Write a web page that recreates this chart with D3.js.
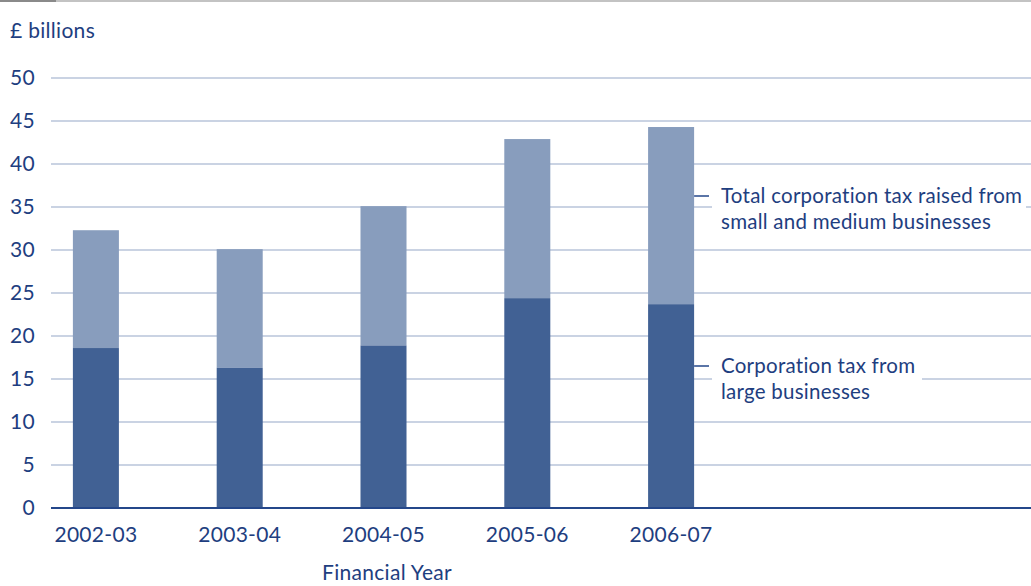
<!DOCTYPE html>
<html>
<head>
<meta charset="utf-8">
<script src="https://cdn.jsdelivr.net/npm/d3@7"></script>
<style>
  html, body { margin: 0; padding: 0; background: #fff; }
  svg { display: block; }
  text { font-family: Lato, "Open Sans", sans-serif; fill: #1e3e80; letter-spacing: 0.3px; }
  text.legend { letter-spacing: 0.25px; }
</style>
</head>
<body>
<svg id="chart" width="1031" height="586"></svg>
<script>
// Corporation tax receipts, £ billions
const years = ["2002-03", "2003-04", "2004-05", "2005-06", "2006-07"];
const largeBusinesses = [18.6, 16.3, 18.9, 24.4, 23.7];
const totalReceipts = [32.3, 30.1, 35.1, 42.9, 44.3];
const yTicks = [0, 5, 10, 15, 20, 25, 30, 35, 40, 45, 50];
const legendTotal = ["Total corporation tax raised from", "small and medium businesses"];
const legendLarge = ["Corporation tax from", "large businesses"];

const W = 1031, H = 586;
const plotLeft = 51, plotRight = 1031;
const svg = d3.select("#chart");

const x = d3.scaleBand()
  .domain(years)
  .range([24, 743])
  .paddingInner(0.68)
  .paddingOuter(0.34);

const y = d3.scaleLinear().domain([0, 50]).range([508, 78]);

// top rule
svg.append("rect").attr("x", 0).attr("y", 0).attr("width", W).attr("height", 2).attr("fill", "#c3c3c3");
svg.append("rect").attr("x", 0).attr("y", 0).attr("width", 56).attr("height", 2).attr("fill", "#8a8a8a");

// gridlines
svg.append("g")
  .selectAll("line")
  .data(yTicks.filter(d => d > 0))
  .join("line")
  .attr("x1", plotLeft).attr("x2", plotRight)
  .attr("y1", d => y(d)).attr("y2", d => y(d))
  .attr("stroke", "#b9c5da").attr("stroke-width", 1.6);

// y tick labels
svg.append("g")
  .selectAll("text")
  .data(yTicks)
  .join("text")
  .attr("x", 35).attr("y", d => y(d) + 7)
  .attr("text-anchor", "end")
  .attr("font-size", 21)
  .text(d => d);

svg.append("text").attr("x", 10).attr("y", 38).attr("font-size", 21).text("£ billions");

// stacked bars
const bars = svg.append("g");
bars.selectAll("rect.total")
  .data(years)
  .join("rect")
  .attr("class", "total")
  .attr("x", d => x(d))
  .attr("width", x.bandwidth())
  .attr("y", (d, i) => y(totalReceipts[i]))
  .attr("height", (d, i) => y(largeBusinesses[i]) - y(totalReceipts[i]))
  .attr("fill", "#889dbd");
bars.selectAll("rect.large")
  .data(years)
  .join("rect")
  .attr("class", "large")
  .attr("x", d => x(d))
  .attr("width", x.bandwidth())
  .attr("y", (d, i) => y(largeBusinesses[i]))
  .attr("height", (d, i) => y(0) - y(largeBusinesses[i]))
  .attr("fill", "#416194");

// baseline
svg.append("line")
  .attr("x1", plotLeft).attr("x2", plotRight)
  .attr("y1", y(0)).attr("y2", y(0))
  .attr("stroke", "#24478a").attr("stroke-width", 2);

// category labels
svg.append("g")
  .selectAll("text")
  .data(years)
  .join("text")
  .attr("x", d => x(d) + x.bandwidth() / 2)
  .attr("y", 542)
  .attr("text-anchor", "middle")
  .attr("font-size", 21)
  .text(d => d);

svg.append("text").attr("x", 387).attr("y", 580).attr("text-anchor", "middle")
  .attr("font-size", 21).text("Financial Year");

// direct labels with leader ticks
const lastIdx = years.length - 1;
const barRight = x(years[lastIdx]) + x.bandwidth();
function directLabel(lines, yLead, boxRight) {
  const g = svg.append("g");
  g.append("rect")
    .attr("x", 712).attr("y", yLead - 18)
    .attr("width", boxRight - 712).attr("height", 56)
    .attr("fill", "#fff");
  g.append("line")
    .attr("x1", barRight).attr("x2", 709)
    .attr("y1", yLead).attr("y2", yLead)
    .attr("stroke", "#24478a").attr("stroke-width", 1.5);
  g.selectAll("text")
    .data(lines)
    .join("text")
    .attr("class", "legend")
    .attr("x", 721)
    .attr("y", (d, i) => yLead + 7 + i * 26)
    .attr("font-size", 20.5)
    .text(d => d);
}
directLabel(legendTotal, 196, 1026);
directLabel(legendLarge, 366, 922);
</script>
</body>
</html>
